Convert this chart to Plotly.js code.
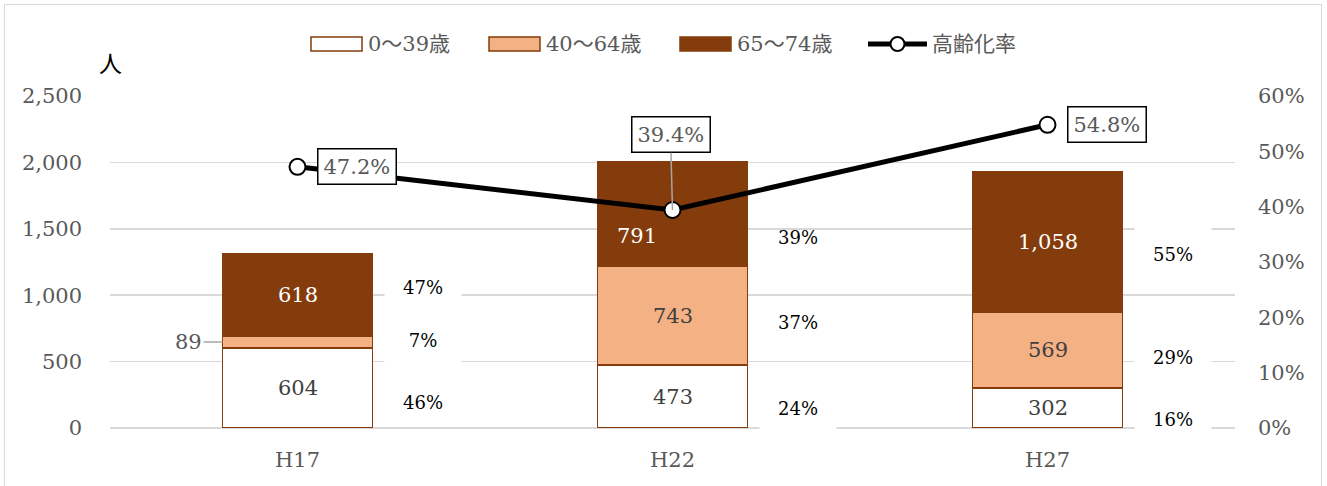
<!DOCTYPE html>
<html><head><meta charset="utf-8">
<script src="https://cdn.plot.ly/plotly-3.0.1.min.js"></script>
<style>
html,body{margin:0;padding:0;background:#fff;}
#chart{width:1327px;height:486px;}
#frame{position:absolute;left:4px;top:4px;width:1318px;height:490px;border:1.5px solid #d9d9d9;box-sizing:border-box;pointer-events:none;}
</style></head>
<body><div id="chart"></div><div id="frame"></div>
<script>
// ---- data ----
const categories = ['H17', 'H22', 'H27'];
const seriesNames = ['0～39歳', '40～64歳', '65～74歳'];
const age0to39 = [604, 473, 302];
const age40to64 = [89, 743, 569];
const age65to74 = [618, 791, 1058];
const lineName = '高齢化率';
const agingRate = [0.472, 0.394, 0.548];
const yTickVals = [0, 500, 1000, 1500, 2000, 2500];
const unitLabel = '人';

// ---- style / layout ----
const FONT = "'DejaVu Serif', 'Noto Sans CJK JP', serif";
const GRAY = '#595959';
const BROWN = '#843C0C';
const segFill = ['#ffffff', '#F4B183', BROWN];
const segText = ['#404040', '#404040', '#ffffff'];
const M = {l: 110, r: 92, t: 96, b: 58};
const W = 1327, H = 486;
const PW = W - M.l - M.r, PH = H - M.t - M.b;
const px = X => (X - M.l) / PW;
const py = Y => (H - M.b - Y) / PH;

// share-label placement (data units on left axis), per category, per segment
const shareLabelY = [[199, 666, 1062], [151, 798, 1438], [68, 531, 1310]];
const shareLabelBg = [[false, true, true], [true, false, false], [true, true, true]];

const segs = [age0to39, age40to64, age65to74];
const traces = segs.map((vals, j) => ({
  type: 'bar', x: categories, y: vals, name: seriesNames[j], width: 0.4,
  marker: {color: segFill[j], line: {color: BROWN, width: 1.5}},
  showlegend: false, hoverinfo: 'skip'
}));
traces.push({
  type: 'scatter', mode: 'lines+markers', x: categories, y: agingRate, yaxis: 'y2',
  name: lineName, line: {color: '#000', width: 5},
  marker: {symbol: 'circle', size: 16, color: '#fff', line: {color: '#000', width: 2}},
  cliponaxis: false, showlegend: false, hoverinfo: 'skip'
});

const ann = [];
const fmt = v => v.toLocaleString('en-US');
categories.forEach((c, i) => {
  let base = 0;
  const total = segs.reduce((s, a) => s + a[i], 0);
  segs.forEach((arr, j) => {
    const v = arr[i];
    const mid = base + v / 2;
    base += v;
    const a = {x: i, y: mid, xref: 'x', yref: 'y', text: fmt(v), showarrow: false,
      font: {family: FONT, size: 21, color: segText[j]}};
    if (i === 0 && j === 1) {
      Object.assign(a, {x: i - 0.2, showarrow: true, ax: -34, ay: 0, arrowhead: 0,
        arrowwidth: 1.5, arrowcolor: '#a6a6a6', standoff: 0, font: {family: FONT, size: 21, color: GRAY}});
    }
    if (i === 1 && j === 2) { a.xshift = -36; a.yshift = -22; }
    ann.push(a);
    // share label
    ann.push({x: i, y: shareLabelY[i][j], xref: 'x', yref: 'y', xshift: 125,
      text: Math.round(v / total * 100) + '%', showarrow: false,
      width: 74, height: 54, bgcolor: shareLabelBg[i][j] ? '#ffffff' : 'rgba(0,0,0,0)',
      font: {family: FONT, size: 18, color: '#000'}});
  });
  // aging rate label
  const la = {x: i, y: agingRate[i], xref: 'x', yref: 'y2',
    text: (agingRate[i] * 100).toFixed(1) + '%', bgcolor: '#fff', bordercolor: '#000',
    borderwidth: 1.5, borderpad: 5, font: {family: FONT, size: 21, color: GRAY}};
  if (i === 1) Object.assign(la, {showarrow: true, ax: -2, ay: -75, arrowhead: 0,
    arrowwidth: 1.5, arrowcolor: '#a6a6a6', standoff: 0});
  else Object.assign(la, {showarrow: false, xshift: 59});
  ann.push(la);
});

ann.push({xref: 'paper', yref: 'paper', x: px(110), y: py(62), xanchor: 'center', yanchor: 'middle',
  text: unitLabel, showarrow: false,
  font: {family: "'Noto Sans CJK JP', sans-serif", size: 23, color: '#000'}});

// custom legend
const shapes = [];
const legY = 44;
const swX = [311, 489, 680];
swX.forEach((x0, j) => {
  shapes.push({type: 'rect', xref: 'paper', yref: 'paper', x0: px(x0), x1: px(x0 + 51),
    y0: py(legY + 7), y1: py(legY - 7), fillcolor: segFill[j], line: {color: BROWN, width: 1.5}});
  ann.push({xref: 'paper', yref: 'paper', x: px(x0 + 55), y: py(legY), xanchor: 'left', yanchor: 'middle',
    text: seriesNames[j], showarrow: false, font: {family: FONT, size: 21, color: GRAY}});
});
shapes.push({type: 'line', xref: 'paper', yref: 'paper', x0: px(868), x1: px(927),
  y0: py(legY), y1: py(legY), line: {color: '#000', width: 5}});
shapes.push({type: 'circle', xref: 'paper', yref: 'paper', xsizemode: 'pixel', ysizemode: 'pixel',
  xanchor: px(897.5), yanchor: py(legY), x0: -7, x1: 7, y0: -7, y1: 7,
  fillcolor: '#fff', line: {color: '#000', width: 2}});
ann.push({xref: 'paper', yref: 'paper', x: px(930), y: py(legY), xanchor: 'left', yanchor: 'middle',
  text: lineName, showarrow: false, font: {family: FONT, size: 21, color: GRAY}});

const layout = {
  width: W, height: H, margin: M, paper_bgcolor: '#fff', plot_bgcolor: '#fff',
  barmode: 'stack', showlegend: false,
  font: {family: FONT, color: GRAY, size: 21},
  xaxis: {type: 'category', range: [-0.5, 2.5], showgrid: false, zeroline: false, showline: false,
    ticks: '', tickfont: {family: FONT, size: 21, color: GRAY}, ticklabelstandoff: 17},
  yaxis: {range: [0, 2500], tickvals: yTickVals, tickformat: ',d', showgrid: true,
    gridcolor: '#d9d9d9', gridwidth: 1.5, zeroline: true, zerolinecolor: '#d9d9d9', zerolinewidth: 1.5,
    showline: false, ticks: '', tickfont: {family: FONT, size: 21, color: GRAY}, ticklabelstandoff: 27},
  yaxis2: {overlaying: 'y', side: 'right', range: [0, 0.6], dtick: 0.1, tick0: 0, tickformat: '.0%',
    showgrid: false, zeroline: false, showline: false, ticks: '',
    tickfont: {family: FONT, size: 21, color: GRAY}, ticklabelstandoff: 22},
  annotations: ann, shapes: shapes
};
Plotly.newPlot('chart', traces, layout, {staticPlot: true, displayModeBar: false});
</script>
</body></html>
